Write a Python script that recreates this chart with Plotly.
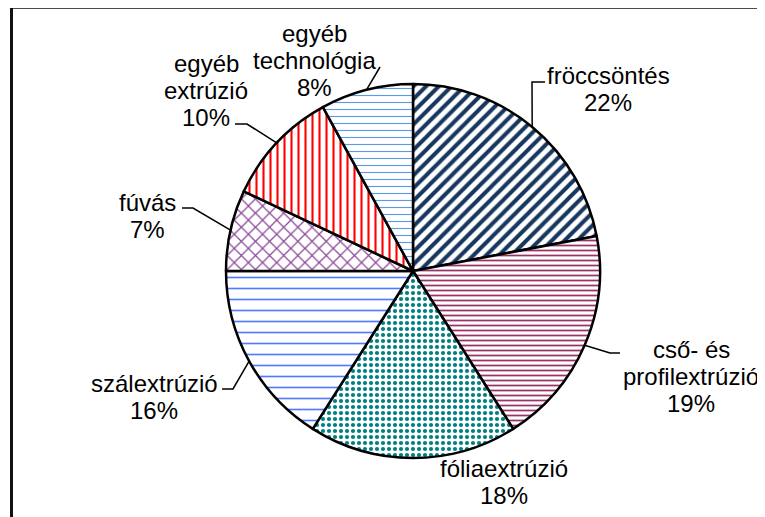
import math
import plotly.graph_objects as go

# ---------------- data ----------------
categories = ["fröccsöntés", "cső- és profilextrúzió", "fóliaextrúzió",
              "szálextrúzió", "fúvás", "egyéb extrúzió", "egyéb technológia"]
label_lines = [["fröccsöntés"], ["cső- és", "profilextrúzió"], ["fóliaextrúzió"],
               ["szálextrúzió"], ["fúvás"], ["egyéb", "extrúzió"], ["egyéb", "technológia"]]
values = [22, 19, 18, 16, 7, 10, 8]

# ---------------- styles ----------------
pattern_shapes = ["/", "-", ".", "-", "x", "|", "-"]
pattern_colors = ["#17375E", "#993366", "#008080", "#4F7BFF", "#8E4A9B", "#FF0000", "#5A9BE6"]
pattern_sizes = [9, 5, 6, 11, 10, 7, 7]
pattern_solidity = [0.45, 0.35, 0.38, 0.15, 0.24, 0.3, 0.16]

W, H = 765, 517
OFF = 8            # page body margin: reference pixel = plot pixel + OFF
CX, CY, R = 413, 271, 187
FONT = "Liberation Sans, Arial, sans-serif"
LINE_STEP = 27

# label block placement (center x, first line y) in reference pixels
label_pos = [(608, 75), (691, 349), (504, 468), (154, 383), (147, 202), (206, 63), (314, 33)]
# leader elbows (after edge point) in reference pixels
leader_pts = [[(532, 82), (545, 82)], [(610, 353), (620, 353)], [],
              [(233, 389), (222, 389)], [(193, 208), (182, 208)],
              [(247, 124), (235, 124)], [(380, 67)]]

total = sum(values)
fig = go.Figure()

pcx, pcy = CX - OFF, CY - OFF
fig.add_trace(go.Pie(
    labels=categories, values=values, sort=False, direction="clockwise", rotation=0,
    textinfo="none", hoverinfo="label+percent", showlegend=False,
    domain=dict(x=[(pcx - R) / W, (pcx + R) / W], y=[(H - pcy - R) / H, (H - pcy + R) / H]),
    marker=dict(
        colors=["white"] * len(values),
        line=dict(color="black", width=2.5),
        pattern=dict(shape=pattern_shapes, fgcolor=pattern_colors, bgcolor="white",
                     size=pattern_sizes, solidity=pattern_solidity, fillmode="replace"),
    ),
))

annotations = []
cum = 0
for i, v in enumerate(values):
    mid = (cum + v / 2) / total * 2 * math.pi
    cum += v
    ex = CX + R * math.sin(mid)
    ey = CY - R * math.cos(mid)
    pts = [(ex, ey)] + leader_pts[i]
    if len(pts) > 1:
        fig.add_trace(go.Scatter(x=[p[0] for p in pts], y=[p[1] for p in pts], mode="lines",
                                 line=dict(color="black", width=1.5), hoverinfo="skip",
                                 showlegend=False))
    lines = label_lines[i] + [f"{round(v / total * 100)}%"]
    lx, ly = label_pos[i]
    for j, t in enumerate(lines):
        annotations.append(dict(x=lx, y=ly + j * LINE_STEP, xref="x", yref="y", text=t,
                                showarrow=False, xanchor="center", yanchor="middle",
                                font=dict(family=FONT, size=24, color="black")))

shapes = [dict(type="rect", xref="x", yref="y", x0=11.5, y0=7.2, x1=800, y1=560,
               line=dict(color="#111111", width=3), fillcolor="rgba(0,0,0,0)")]

fig.update_layout(
    width=W, height=H, margin=dict(l=0, r=0, t=0, b=0),
    paper_bgcolor="white", plot_bgcolor="white",
    xaxis=dict(range=[OFF, W + OFF], visible=False, domain=[0, 1], fixedrange=True),
    yaxis=dict(range=[H + OFF, OFF], visible=False, domain=[0, 1], fixedrange=True),
    annotations=annotations, shapes=shapes, showlegend=False,
)

fig.write_html("out.html")
